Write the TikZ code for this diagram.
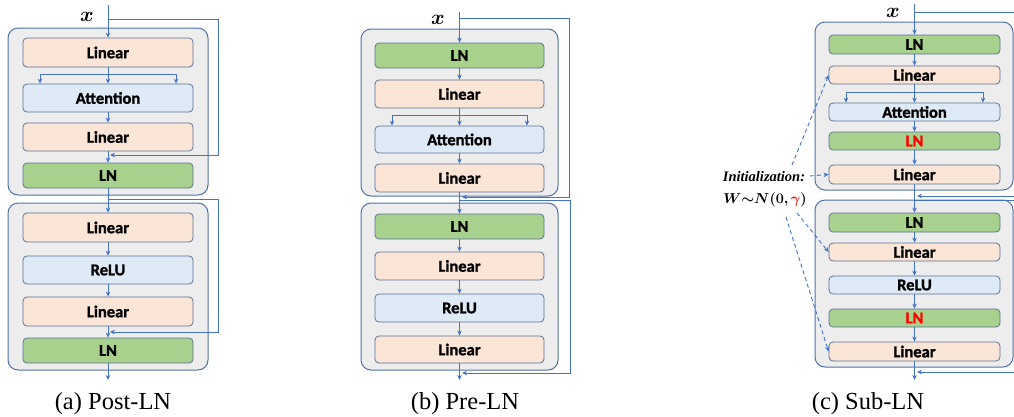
\documentclass[tikz,border=0pt]{standalone}
\usepackage{fontspec}
\setmainfont{Liberation Serif}
\newfontfamily\timesf{Liberation Serif}
\newfontfamily\carlitob{Carlito Bold}[FakeBold=1.3]
\usepackage{bm}
\usetikzlibrary{arrows.meta}
\definecolor{boxgray}{HTML}{EDEDED}
\definecolor{boxline}{HTML}{4F71A8}
\definecolor{blkline}{HTML}{5A7396}
\definecolor{peach}{HTML}{FBE5D6}
\definecolor{lblue}{HTML}{DEEBF7}
\definecolor{lgreen}{HTML}{A9D18E}
\definecolor{conn}{HTML}{4472C4}
\begin{document}
\begin{tikzpicture}[x=1pt,y=-1pt,
  outer/.style={draw=boxline,fill=boxgray,line width=1pt,rounded corners=10pt},
  blk/.style={draw=blkline,line width=0.8pt,rounded corners=4pt,minimum width=170pt,inner sep=0pt,
    font=\carlitob\fontsize{16.5}{18}\selectfont},
  lin/.style={blk,fill=peach},
  att/.style={blk,fill=lblue},
  lnb/.style={blk,fill=lgreen},
  wire/.style={draw=conn,line width=0.9pt},
  arr/.style={wire,-{Stealth[length=5pt,width=4.5pt]}},
  darr/.style={arr,dash pattern=on 4pt off 3pt},
  captext/.style={font=\timesf\fontsize{24.5}{26}\selectfont,anchor=base},
  xlab/.style={font=\fontsize{21}{22}\selectfont}
]
\useasboundingbox (0,0) rectangle (1014,416);

% ================= (a) Post-LN =================
\draw[outer] (8,28) rectangle (208,195);
\draw[outer] (8,203) rectangle (208,370);
\node[lin,minimum height=29pt] (a1) at (108,52.5) {Linear};
\node[att,minimum height=28pt] (a2) at (108,98) {Attention};
\node[lin,minimum height=28pt] (a3) at (108,137) {Linear};
\node[lnb,minimum height=25pt] (a4) at (108,175.5) {LN};
\node[lin,minimum height=29pt] (a5) at (108,227.5) {Linear};
\node[att,minimum height=28pt] (a6) at (108,270) {ReLU};
\node[lin,minimum height=29pt] (a7) at (108,311.5) {Linear};
\node[lnb,minimum height=25pt] (a8) at (108,350.5) {LN};
\node[xlab] (ax) at (87,17) {$\bm{x}$};
\coordinate (ain) at (108,5);
\coordinate (aout) at (108,380);
\draw[arr] (ain) -- (a1.north);
% fork
\coordinate (afc) at (108,74);
\coordinate (afl) at (40,74);
\coordinate (afr) at (176,74);
\draw[wire] (a1.south) -- (afc);
\draw[wire] (afl) -- (afr);
\draw[arr] (afl) -- (afl |- a2.north);
\draw[arr] (afc) -- (a2.north);
\draw[arr] (afr) -- (afr |- a2.north);
\draw[arr] (a2.south) -- (a3.north);
\draw[arr] (a3.south) -- (a4.north);
\draw[arr] (a4.south) -- (a5.north);
\draw[arr] (a5.south) -- (a6.north);
\draw[arr] (a6.south) -- (a7.north);
\draw[arr] (a7.south) -- (a8.north);
\draw[arr] (a8.south) -- (aout);
% residuals
\coordinate (ar1s) at (108,19);
\coordinate (ar1a) at (218,19);
\coordinate (ar1b) at (218,155);
\coordinate (ar1e) at (110,155);
\draw[arr] (ar1s) -- (ar1a) -- (ar1b) -- (ar1e);
\coordinate (ar2s) at (108,199);
\coordinate (ar2a) at (218,199);
\coordinate (ar2b) at (218,332);
\coordinate (ar2e) at (110,332);
\draw[arr] (ar2s) -- (ar2a) -- (ar2b) -- (ar2e);
\node[captext] (acap) at (113,409) {(a)\ Post-LN};

% ================= (b) Pre-LN =================
\draw[outer] (361,29) rectangle (558,196);
\draw[outer] (361,203) rectangle (558,370);
\node[lnb,minimum height=25pt,minimum width=169pt] (b1) at (459.5,55.5) {LN};
\node[lin,minimum height=28pt,minimum width=169pt] (b2) at (459.5,94) {Linear};
\node[att,minimum height=27pt,minimum width=169pt] (b3) at (459.5,139.5) {Attention};
\node[lin,minimum height=28pt,minimum width=169pt] (b4) at (459.5,178) {Linear};
\node[lnb,minimum height=25pt,minimum width=169pt] (b5) at (459.5,226.5) {LN};
\node[lin,minimum height=28pt,minimum width=169pt] (b6) at (459.5,266) {Linear};
\node[att,minimum height=28pt,minimum width=169pt] (b7) at (459.5,308) {ReLU};
\node[lin,minimum height=27pt,minimum width=169pt] (b8) at (459.5,349.5) {Linear};
\node[xlab] (bx) at (438,20) {$\bm{x}$};
\coordinate (bin) at (459.5,12);
\coordinate (bout) at (459.5,380);
\draw[arr] (bin) -- (b1.north);
\draw[arr] (b1.south) -- (b2.north);
\coordinate (bfc) at (459.5,115);
\coordinate (bfl) at (392,115);
\coordinate (bfr) at (527,115);
\draw[wire] (b2.south) -- (bfc);
\draw[wire] (bfl) -- (bfr);
\draw[arr] (bfl) -- (bfl |- b3.north);
\draw[arr] (bfc) -- (b3.north);
\draw[arr] (bfr) -- (bfr |- b3.north);
\draw[arr] (b3.south) -- (b4.north);
\draw[arr] (b4.south) -- (b5.north);
\draw[arr] (b5.south) -- (b6.north);
\draw[arr] (b6.south) -- (b7.north);
\draw[arr] (b7.south) -- (b8.north);
\draw[arr] (b8.south) -- (bout);
\coordinate (br1s) at (459.5,18);
\coordinate (br1a) at (569,18);
\coordinate (br1b) at (569,197);
\coordinate (br1e) at (462,197);
\draw[arr] (br1s) -- (br1a) -- (br1b) -- (br1e);
\coordinate (br2s) at (459.5,200);
\coordinate (br2a) at (570,200);
\coordinate (br2b) at (570,373);
\coordinate (br2e) at (462,373);
\draw[arr] (br2s) -- (br2a) -- (br2b) -- (br2e);
\node[captext] (bcap) at (465,409) {(b)\ Pre-LN};

% ================= (c) Sub-LN =================
\draw[outer] (815,22) rectangle (1013,190);
\draw[outer] (815,200) rectangle (1013,367);
\node[lnb,minimum height=19pt,minimum width=171pt] (c1) at (914.5,44.5) {LN};
\node[lin,minimum height=18pt,minimum width=171pt] (c2) at (914.5,75) {Linear};
\node[att,minimum height=18pt,minimum width=171pt] (c3) at (914.5,112) {Attention};
\node[lnb,minimum height=18pt,minimum width=171pt,text=red] (c4) at (914.5,141) {LN};
\node[lin,minimum height=19pt,minimum width=171pt] (c5) at (914.5,174.5) {Linear};
\node[lnb,minimum height=19pt,minimum width=171pt] (c6) at (914.5,222.5) {LN};
\node[lin,minimum height=18pt,minimum width=171pt] (c7) at (914.5,252) {Linear};
\node[att,minimum height=18pt,minimum width=171pt] (c8) at (914.5,285) {ReLU};
\node[lnb,minimum height=18pt,minimum width=171pt,text=red] (c9) at (914.5,318) {LN};
\node[lin,minimum height=19pt,minimum width=171pt] (c10) at (914.5,351.5) {Linear};
\node[xlab] (cx) at (893,13) {$\bm{x}$};
\coordinate (cin) at (914.5,4);
\coordinate (cout) at (914.5,380);
\draw[arr] (cin) -- (c1.north);
\draw[arr] (c1.south) -- (c2.north);
\coordinate (cfc) at (914.5,92);
\coordinate (cfl) at (846,92);
\coordinate (cfr) at (983,92);
\draw[wire] (c2.south) -- (cfc);
\draw[wire] (cfl) -- (cfr);
\draw[arr] (cfl) -- (cfl |- c3.north);
\draw[arr] (cfc) -- (c3.north);
\draw[arr] (cfr) -- (cfr |- c3.north);
\draw[arr] (c3.south) -- (c4.north);
\draw[arr] (c4.south) -- (c5.north);
\draw[arr] (c5.south) -- (c6.north);
\draw[arr] (c6.south) -- (c7.north);
\draw[arr] (c7.south) -- (c8.north);
\draw[arr] (c8.south) -- (c9.north);
\draw[arr] (c9.south) -- (c10.north);
\draw[arr] (c10.south) -- (cout);
% residuals (run off the right edge)
\coordinate (cr1s) at (914.5,12);
\coordinate (cr1a) at (1014,12);
\draw[wire] (cr1s) -- (cr1a);
\coordinate (cr1b) at (1014,196);
\coordinate (cr1e) at (917,196);
\draw[arr] (cr1b) -- (cr1e);
\coordinate (cr2s) at (914.5,200);
\coordinate (cr2a) at (1014,200);
\draw[wire] (cr2s) -- (cr2a);
\coordinate (cr2b) at (1014,372);
\coordinate (cr2e) at (917,372);
\draw[arr] (cr2b) -- (cr2e);
% initialization
\node[font=\timesf\fontsize{14.5}{16}\selectfont\bfseries\itshape] (init) at (764,177) {Initialization:};
\node[font=\fontsize{15}{16}\selectfont] (wdist) at (765,200)
  {$\bm{W\mathord{\sim}N(0,}\textcolor{red}{\bm{\gamma}}\bm{)}$};
\coordinate (d1) at (792,165);
\coordinate (d2) at (810,176);
\coordinate (d3) at (797,213);
\coordinate (d4) at (786,217);
\draw[darr] (d1) -- (c2.west);
\draw[darr] (d2) -- (c5.west);
\draw[darr] (d3) -- (c7.west);
\draw[darr] (d4) -- (c10.west);
\node[captext] (ccap) at (868,409) {(c)\ Sub-LN};
\end{tikzpicture}
\end{document}
